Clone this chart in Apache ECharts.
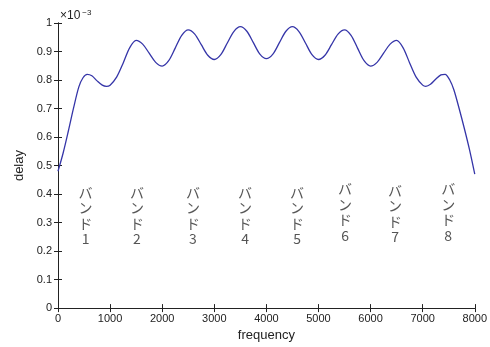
<!DOCTYPE html>
<html>
<head>
<meta charset="utf-8">
<script src="https://cdn.jsdelivr.net/npm/echarts@6/dist/echarts.min.js"></script>
<style>
html,body{margin:0;padding:0;background:#fff;}
#main{width:490px;height:347px;}
</style>
</head>
<body>
<div id="main"></div>
<script>
// 遅延特性 (delay ×10^-3) vs frequency
var freq  = [0, 100, 200, 300, 400, 480, 560, 650, 750, 850, 930, 1000, 1125, 1250, 1375, 1500, 1625, 1750, 1875, 2000,
             2125, 2250, 2375, 2500, 2625, 2750, 2875, 3000, 3125, 3250, 3375, 3500, 3625, 3750, 3875, 4000,
             4125, 4250, 4375, 4500, 4625, 4750, 4875, 5000, 5125, 5250, 5375, 5500, 5625, 5750, 5875, 6000,
             6125, 6250, 6375, 6500, 6625, 6750, 6875, 7000, 7060, 7150, 7250, 7350, 7430, 7520, 7600, 7700, 7800, 7900, 8000];
var delay = [0.48, 0.545, 0.622, 0.703, 0.776, 0.808, 0.82, 0.815, 0.797, 0.782, 0.778, 0.782, 0.81, 0.859, 0.913, 0.939, 0.926, 0.894, 0.862, 0.849,
             0.868, 0.912, 0.957, 0.976, 0.961, 0.924, 0.887, 0.872, 0.889, 0.93, 0.97, 0.987, 0.971, 0.931, 0.891, 0.875,
             0.891, 0.931, 0.971, 0.987, 0.97, 0.93, 0.889, 0.872, 0.887, 0.924, 0.961, 0.976, 0.957, 0.912, 0.868, 0.849,
             0.862, 0.894, 0.926, 0.939, 0.913, 0.86, 0.81, 0.782, 0.778, 0.785, 0.803, 0.818, 0.82, 0.80, 0.765, 0.70, 0.63, 0.555, 0.47];

// バンド labels
var bandNames = ['1', '2', '3', '4', '5', '6', '7', '8'];
var bandX = [530, 1515, 2590, 3590, 4590, 5510, 6470, 7490];
var bandTop = [0.433, 0.433, 0.433, 0.433, 0.433, 0.446, 0.44, 0.446];

var lineData = freq.map(function (f, i) { return [f, delay[i]]; });
var bandData = bandX.map(function (x, i) { return [x, bandTop[i], bandNames[i]]; });

var chart = echarts.init(document.getElementById('main'));
var axisCol = '#222';
var font = 'Liberation Sans, Arial, sans-serif';

option = {
    animation: false,
    title: {
        text: '×10{s|−3}',
        left: 55,
        top: 4,
        textStyle: {
            fontSize: 12, fontWeight: 'normal', color: axisCol, fontFamily: font,
            rich: { s: { fontSize: 8, verticalAlign: 'top', padding: [0, 0, 6, 2], color: axisCol } }
        }
    },
    grid: { left: 58, right: 15, top: 23, bottom: 35 },
    xAxis: [{
        type: 'value', min: 0, max: 8000, interval: 1000,
        name: 'frequency', nameLocation: 'middle', nameGap: 19,
        nameTextStyle: { fontSize: 13, color: axisCol, fontFamily: font },
        axisLine: { lineStyle: { color: axisCol, width: 1 } },
        axisTick: { inside: true, length: 4, lineStyle: { color: axisCol } },
        axisLabel: { fontSize: 11, color: axisCol, fontFamily: font, margin: 5,
            formatter: function (v) { return String(v); } },
        splitLine: { show: false }
    }, {
        type: 'value', min: 0, max: 8000, interval: 1000, position: 'top',
        axisLine: { lineStyle: { color: axisCol, width: 1 } },
        axisTick: { inside: true, length: 4, lineStyle: { color: axisCol } },
        axisLabel: { show: false },
        splitLine: { show: false }
    }],
    yAxis: [{
        type: 'value', min: 0, max: 1, interval: 0.1,
        name: 'delay', nameLocation: 'middle', nameGap: 27,
        nameTextStyle: { fontSize: 13, color: axisCol, fontFamily: font },
        axisLine: { show: true, lineStyle: { color: axisCol, width: 1 } },
        axisTick: { show: true, inside: true, length: 4, lineStyle: { color: axisCol } },
        axisLabel: {
            fontSize: 11, color: axisCol, fontFamily: font, margin: 6,
            formatter: function (v) { return +v.toFixed(1) + ''; }
        },
        splitLine: { show: false }
    }, {
        type: 'value', min: 0, max: 1, interval: 0.1, position: 'right',
        axisLine: { show: true, lineStyle: { color: axisCol, width: 1 } },
        axisTick: { show: true, inside: true, length: 4, lineStyle: { color: axisCol } },
        axisLabel: { show: false },
        splitLine: { show: false }
    }],
    series: [{
        type: 'line',
        data: lineData,
        smooth: 0.3,
        showSymbol: false,
        lineStyle: { color: '#3535a8', width: 1.3 }
    }, {
        type: 'scatter',
        data: bandData,
        symbolSize: 0,
        label: {
            show: true,
            position: 'bottom',
            distance: 0,
            formatter: function (p) { return 'バ\nン\nド\n' + p.data[2]; },
            fontSize: 14,
            lineHeight: 15.5,
            color: '#2a2a2a',
            fontFamily: 'Noto Sans CJK JP'
        }
    }]
};
chart.setOption(option);
</script>
</body>
</html>
